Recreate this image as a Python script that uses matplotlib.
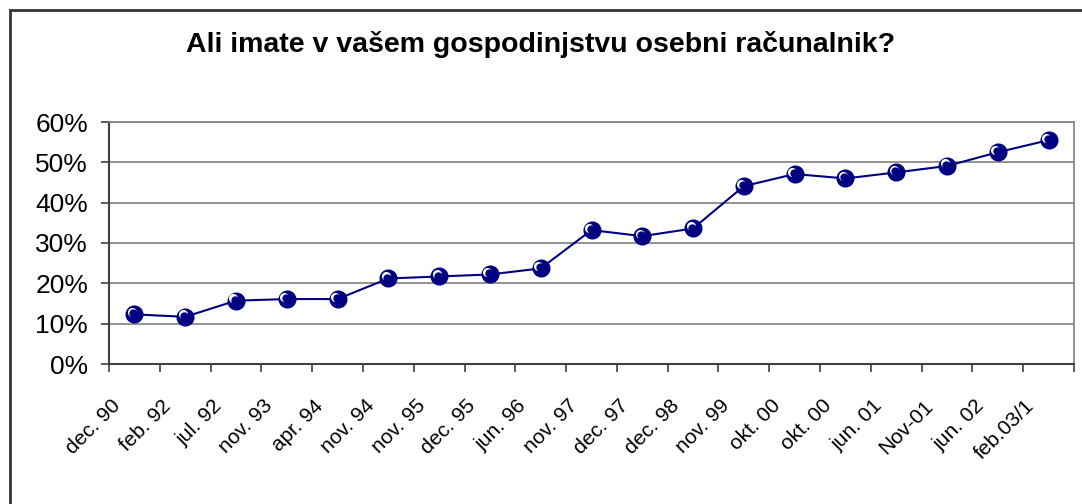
import matplotlib
matplotlib.use("Agg")
import matplotlib.pyplot as plt
import matplotlib.transforms as mtransforms
from matplotlib.patches import Rectangle
from matplotlib.ticker import FuncFormatter, FixedLocator

plt.rcParams['font.family'] = ['Liberation Sans', 'DejaVu Sans']

# data
labels = ['dec. 90', 'feb. 92', 'jul. 92', 'nov. 93', 'apr. 94', 'nov. 94', 'nov. 95',
          'dec. 95', 'jun. 96', 'nov. 97', 'dec. 97', 'dec. 98', 'nov. 99', 'okt. 00',
          'okt. 00', 'jun. 01', 'Nov-01', 'jun. 02', 'feb.03/1']
share = [12.3, 11.7, 15.7, 16.1, 16.1, 21.2, 21.7, 22.2, 23.7, 33.2, 31.7, 33.6,
         44.1, 47.1, 46.0, 47.5, 49.1, 52.5, 55.5]
yticks = [0, 10, 20, 30, 40, 50, 60]

navy = '#000080'

fig = plt.figure(figsize=(10.82, 5.04), dpi=100)
ax = fig.add_axes([109 / 1082, 1 - 364 / 504, 965 / 1082, 242 / 504])

x = list(range(len(labels)))
ax.plot(x, share, color=navy, lw=1.5, marker='o', ms=12, mfc=navy, mec=navy, zorder=3)
# little white highlight on each marker
off1 = mtransforms.offset_copy(ax.transData, fig=fig, x=-1.8, y=1.8, units='points')
off2 = mtransforms.offset_copy(ax.transData, fig=fig, x=-0.7, y=0.7, units='points')
ax.plot(x, share, ls='none', marker='o', ms=6.5, mfc='white', mec='none', transform=off1, zorder=4)
ax.plot(x, share, ls='none', marker='o', ms=6, mfc=navy, mec='none', transform=off2, zorder=5)

ax.set_xlim(-0.5, len(labels) - 0.5)
ax.set_ylim(0, 60)
ax.set_yticks(yticks)
ax.yaxis.set_major_formatter(FuncFormatter(lambda v, p: '%d%%' % v))
ax.grid(axis='y', color='#808080', lw=1.2)
ax.set_axisbelow(True)

ax.set_xticks(x)
ax.set_xticklabels(labels, rotation=45, ha='right', va='center', rotation_mode='anchor', fontsize=15)
ax.xaxis.set_minor_locator(FixedLocator([i - 0.5 for i in range(len(labels) + 1)]))
ax.tick_params(axis='x', which='major', length=0, pad=28)
ax.tick_params(axis='x', which='minor', length=6, width=1.2, color='#404040')
ax.tick_params(axis='y', length=6, width=1.2, color='#404040', labelsize=19, pad=9)

# nudge the rotated labels left (after tick_params, which resets transforms)
shift = mtransforms.ScaledTranslation(-17 / 100, 0, fig.dpi_scale_trans)
for t in ax.get_xticklabels():
    t.set_transform(t.get_transform() + shift)

for s in ['left', 'bottom']:
    ax.spines[s].set_color('#404040')
    ax.spines[s].set_linewidth(1.5)
for s in ['top', 'right']:
    ax.spines[s].set_color('#808080')
    ax.spines[s].set_linewidth(1.2)

fig.text(0.5, 1 - 45 / 504, 'Ali imate v vašem gospodinjstvu osebni računalnik?',
         ha='center', va='center', fontsize=20.5, fontweight='bold')

fig.patches.append(Rectangle((10 / 1082, -0.05), 1.2, 1 - 10 / 504 + 0.05, transform=fig.transFigure,
                             fill=False, edgecolor='#333333', lw=2))

fig.savefig('out.png', dpi=100)
